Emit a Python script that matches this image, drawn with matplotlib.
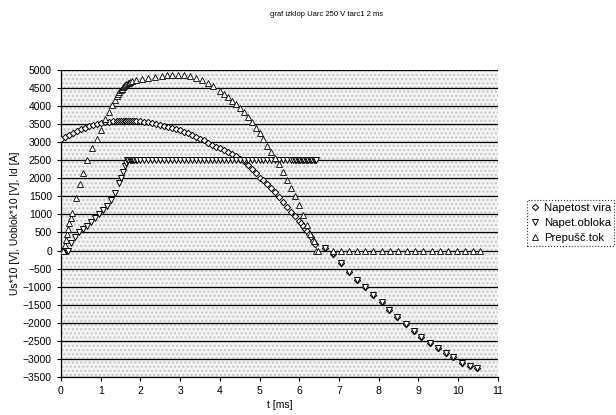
import matplotlib.pyplot as plt
from matplotlib.patches import Rectangle

plt.rcParams['font.family'] = ['Liberation Sans', 'DejaVu Sans']

# napetost vira (Us*10), t in ms
t_vira = [0.0, 0.1, 0.2, 0.3, 0.4, 0.5, 0.6, 0.7, 0.8, 0.9, 1.0, 1.1, 1.2, 1.3,
          1.4, 1.45, 1.5, 1.55, 1.6, 1.65, 1.7, 1.75, 1.8, 1.85, 1.9, 2.0, 2.1,
          2.2, 2.3, 2.4, 2.5, 2.6, 2.7, 2.8, 2.9, 3.0, 3.1, 3.2, 3.3, 3.4, 3.5,
          3.6, 3.7, 3.8, 3.9, 4.0, 4.1, 4.2, 4.3, 4.4, 4.5, 4.6, 4.7, 4.8, 4.9,
          5.0, 5.1, 5.2, 5.3, 5.4, 5.5, 5.6, 5.7, 5.8, 5.9, 6.0, 6.05, 6.1,
          6.15, 6.2, 6.25, 6.3, 6.35, 6.4,
          6.65, 6.86, 7.05, 7.26, 7.46, 7.66, 7.87, 8.08, 8.27, 8.47, 8.69,
          8.89, 9.08, 9.29, 9.49, 9.69, 9.88, 10.09, 10.3, 10.47]
u_vira = [3100, 3150, 3200, 3260, 3310, 3360, 3400, 3440, 3480, 3510, 3530,
          3550, 3570, 3580, 3590, 3592, 3595, 3598, 3600, 3600, 3600, 3600,
          3600, 3598, 3595, 3590, 3575, 3560, 3540, 3515, 3485, 3455, 3425,
          3395, 3370, 3340, 3295, 3250, 3200, 3150, 3100, 3050, 2990, 2930,
          2880, 2830, 2780, 2730, 2670, 2610, 2550, 2480, 2380, 2270, 2140,
          2020, 1960, 1850, 1730, 1610, 1480, 1350, 1220, 1080, 960, 830,
          760, 690, 610, 530, 450, 370, 270, 170,
          60, -100, -358, -590, -820, -1023, -1235, -1420, -1651, -1853, -2047,
          -2224, -2390, -2557, -2712, -2850, -2961, -3111, -3202, -3266]

# napetost obloka (Uoblok*10)
t_obl = [0.0, 0.03, 0.06, 0.09, 0.12, 0.15, 0.18, 0.25, 0.35, 0.45, 0.55,
         0.65, 0.75, 0.85, 0.95, 1.05, 1.15, 1.25, 1.35, 1.45, 1.5, 1.55,
         1.6, 1.63, 1.67, 1.7, 1.73, 1.76, 1.79, 1.82, 1.85, 1.88, 1.92, 2.0,
         2.1, 2.2, 2.3, 2.4, 2.5, 2.6, 2.7, 2.8, 2.9, 3.0, 3.1, 3.2, 3.3, 3.4,
         3.5, 3.6, 3.7, 3.8, 3.9, 4.0, 4.1, 4.2, 4.3, 4.4, 4.5, 4.6, 4.7, 4.8,
         4.9, 5.0, 5.1, 5.2, 5.3, 5.4, 5.5, 5.6, 5.7, 5.8, 5.85, 5.9, 5.93,
         5.96, 6.0, 6.03, 6.06, 6.1, 6.13, 6.16, 6.2, 6.23, 6.26, 6.3, 6.33,
         6.36, 6.4, 6.43,
         6.65, 6.86, 7.05, 7.26, 7.46, 7.66, 7.87, 8.08, 8.27, 8.47, 8.69,
         8.89, 9.08, 9.29, 9.49, 9.69, 9.88, 10.09, 10.3, 10.47]
u_obl = [0, 0, 0, 0, 0, 0, 0, 200, 380, 500, 600, 690, 780, 890, 1000, 1110,
         1240, 1390, 1600, 1870, 2020, 2180, 2330, 2420, 2500, 2500, 2500,
         2500, 2500, 2500, 2500, 2500, 2500, 2500, 2500, 2500, 2500, 2500,
         2500, 2500, 2500, 2500, 2500, 2500, 2500, 2500, 2500, 2500, 2500,
         2500, 2500, 2500, 2500, 2500, 2500, 2500, 2500, 2500, 2500, 2500,
         2500, 2500, 2500, 2500, 2500, 2500, 2500, 2500, 2500, 2500, 2500,
         2500, 2500, 2500, 2500, 2500, 2500, 2500, 2500, 2500, 2500, 2500,
         2500, 2500, 2500, 2500, 2500, 2500, 2500, 2500,
         60, -100, -358, -590, -820, -1023, -1235, -1420, -1651, -1853, -2047,
         -2224, -2390, -2557, -2712, -2850, -2961, -3111, -3202, -3266]

# prepusceni tok (Id)
t_tok = [0.0, 0.03, 0.06, 0.09, 0.12, 0.15, 0.18, 0.21, 0.24, 0.27, 0.37,
         0.48, 0.56, 0.66, 0.78, 0.9, 1.0, 1.11, 1.2, 1.28, 1.35, 1.41, 1.44,
         1.47, 1.5, 1.53, 1.56, 1.59, 1.62, 1.65, 1.68, 1.71, 1.75, 1.79, 1.9,
         2.04, 2.2, 2.37, 2.55, 2.67, 2.79, 2.95, 3.1, 3.25, 3.4, 3.55, 3.7,
         3.84, 4.0, 4.1, 4.2, 4.3, 4.4, 4.5, 4.6, 4.7, 4.8, 4.9, 5.0, 5.1,
         5.2, 5.3, 5.4, 5.5, 5.6, 5.7, 5.8, 5.9, 6.0, 6.1, 6.19, 6.28, 6.36,
         6.42,
         6.47, 6.86, 7.05, 7.26, 7.46, 7.66, 7.87, 8.08, 8.29, 8.5, 8.71, 8.92,
         9.13, 9.34, 9.55, 9.76, 9.97, 10.18, 10.37, 10.55]
i_tok = [0, 0, 0, 150, 300, 450, 600, 750, 900, 1050, 1450, 1850, 2150, 2520,
         2830, 3100, 3350, 3640, 3850, 4045, 4180, 4273, 4340, 4400, 4450,
         4490, 4525, 4555, 4585, 4610, 4635, 4655, 4675, 4690, 4725, 4760,
         4790, 4820, 4845, 4855, 4865, 4870, 4855, 4830, 4780, 4720, 4650,
         4560, 4430, 4340, 4250, 4150, 4050, 3950, 3830, 3700, 3560, 3410,
         3250, 3080, 2900, 2730, 2570, 2400, 2180, 1950, 1720, 1500, 1250,
         980, 700, 470, 260, 0,
         0, 0, 0, 0, 0, 0, 0, 0, 0, 0, 0, 0, 0, 0, 0, 0, 0, 0, 0, 0]

y_ticks = list(range(-3500, 5001, 500))
x_ticks = list(range(0, 12))

fig = plt.figure(figsize=(6.16, 4.15), dpi=100)
ax = fig.add_axes([0.099, 0.092, 0.709, 0.739])

# stippled plot area like the excel pattern
ax.set_facecolor('white')
ax.add_patch(Rectangle((0, 0), 1, 1, transform=ax.transAxes, facecolor='#f4f4f4',
                       edgecolor='#c4c4c4', hatch='....', linewidth=0, zorder=0))

for y in y_ticks:
    ax.axhline(y, color='black', linewidth=0.9, zorder=1)

ax.plot(t_vira, u_vira, linestyle='none', marker='D', markersize=3.2,
        markerfacecolor='white', markeredgecolor='black', markeredgewidth=0.7,
        label='Napetost vira', zorder=3)
ax.plot(t_obl, u_obl, linestyle='none', marker='v', markersize=4.2,
        markerfacecolor='white', markeredgecolor='black', markeredgewidth=0.7,
        label='Napet.obloka', zorder=3)
ax.plot(t_tok, i_tok, linestyle='none', marker='^', markersize=5,
        markerfacecolor='white', markeredgecolor='black', markeredgewidth=0.6,
        label='Prepušč.tok', zorder=3)

ax.set_xlim(0, 11)
ax.set_ylim(-3500, 5000)
ax.set_xticks(x_ticks)
ax.set_yticks(y_ticks)
ax.tick_params(labelsize=7.5, length=3, width=0.8, direction='out')
for s in ['top', 'right']:
    ax.spines[s].set_visible(False)
ax.spines['left'].set_linewidth(0.9)
ax.spines['bottom'].set_linewidth(0.9)

ax.set_xlabel('t [ms]', fontsize=7.5, labelpad=3)
ax.set_ylabel('Us*10 [V], Uoblok*10 [V], Id [A]', fontsize=7.5, labelpad=2)

fig.text(0.53, 0.965, 'graf izklop Uarc 250 V tarc1 2 ms', fontsize=5.5,
         ha='center', va='center')

leg = fig.legend(loc='upper left', bbox_to_anchor=(0.855, 0.518), fontsize=8.2,
                 frameon=True, fancybox=False, handletextpad=0.3,
                 borderpad=0.25, labelspacing=0.45, handlelength=1.0,
                 borderaxespad=0)
leg.get_frame().set_edgecolor('black')
leg.get_frame().set_linewidth(0.8)
leg.get_frame().set_linestyle(':')

fig.savefig('out.png', dpi=100)
